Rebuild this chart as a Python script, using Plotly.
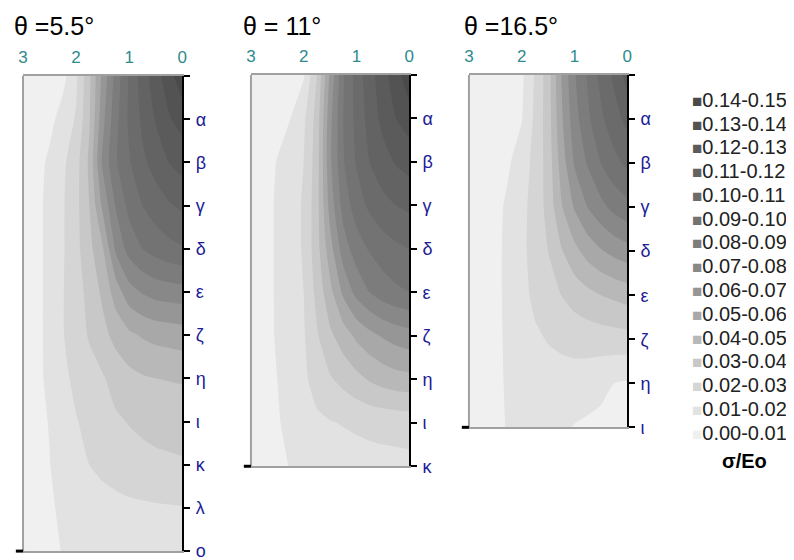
import plotly.graph_objects as go

# ---------------- data ----------------
X_POS = [0.0, 0.25, 0.5, 0.75, 1.0, 1.25, 1.5, 1.75, 2.0, 2.25, 2.5, 2.75, 3.0]
X_TICKS = [0, 1, 2, 3]

TITLES = ["θ =5.5°", "θ = 11°", "θ =16.5°"]

DEPTH_LABELS_55 = ["", "α", "β", "γ", "δ", "ε", "ζ", "η", "ι", "κ", "λ", "ο"]
DEPTH_LABELS_11 = ["", "α", "β", "γ", "δ", "ε", "ζ", "η", "ι", "κ"]
DEPTH_LABELS_165 = ["", "α", "β", "γ", "δ", "ε", "ζ", "η", "ι"]

# sigma/Eo, rows = depth ticks (top to bottom), columns = X_POS
Z_THETA_55 = [
    [0.147, 0.136, 0.126, 0.115, 0.101, 0.084, 0.063, 0.038, 0.018, 0.007, 0.0045, 0.0035, 0.003],
    [0.134, 0.129, 0.121, 0.112, 0.102, 0.087, 0.067, 0.039, 0.021, 0.014, 0.007, 0.0045, 0.0035],
    [0.124, 0.120, 0.114, 0.108, 0.099, 0.089, 0.072, 0.042, 0.026, 0.018, 0.012, 0.006, 0.004],
    [0.112, 0.109, 0.105, 0.100, 0.093, 0.081, 0.062, 0.040, 0.027, 0.019, 0.013, 0.007, 0.0045],
    [0.099, 0.097, 0.094, 0.090, 0.084, 0.072, 0.049, 0.037, 0.027, 0.019, 0.013, 0.007, 0.0045],
    [0.076, 0.075, 0.074, 0.071, 0.066, 0.055, 0.042, 0.033, 0.026, 0.0195, 0.013, 0.007, 0.0045],
    [0.055, 0.054, 0.053, 0.051, 0.048, 0.043, 0.037, 0.031, 0.025, 0.0195, 0.013, 0.007, 0.0045],
    [0.041, 0.0405, 0.040, 0.039, 0.037, 0.034, 0.029, 0.026, 0.022, 0.018, 0.0125, 0.007, 0.0045],
    [0.034, 0.0335, 0.033, 0.032, 0.0305, 0.0285, 0.0255, 0.0225, 0.0195, 0.016, 0.0105, 0.007, 0.0045],
    [0.029, 0.0285, 0.028, 0.027, 0.026, 0.0245, 0.0225, 0.020, 0.0175, 0.0145, 0.0097, 0.007, 0.0045],
    [0.0195, 0.0193, 0.019, 0.0185, 0.018, 0.017, 0.016, 0.015, 0.014, 0.012, 0.0085, 0.006, 0.0045],
    [0.016, 0.016, 0.0158, 0.0155, 0.015, 0.0145, 0.014, 0.013, 0.012, 0.0105, 0.0075, 0.0055, 0.004],
]

Z_THETA_11 = [
    [0.147, 0.136, 0.126, 0.116, 0.104, 0.089, 0.062, 0.030, 0.009, 0.005, 0.004, 0.0035, 0.003],
    [0.135, 0.130, 0.123, 0.114, 0.103, 0.090, 0.067, 0.034, 0.018, 0.010, 0.006, 0.004, 0.0035],
    [0.124, 0.121, 0.116, 0.110, 0.101, 0.089, 0.068, 0.035, 0.020, 0.015, 0.0105, 0.0055, 0.004],
    [0.112, 0.110, 0.107, 0.102, 0.095, 0.084, 0.064, 0.036, 0.021, 0.016, 0.0115, 0.006, 0.004],
    [0.100, 0.098, 0.095, 0.091, 0.085, 0.075, 0.056, 0.036, 0.021, 0.016, 0.0115, 0.006, 0.004],
    [0.090, 0.088, 0.085, 0.080, 0.073, 0.062, 0.047, 0.033, 0.020, 0.0155, 0.0115, 0.006, 0.004],
    [0.066, 0.064, 0.061, 0.057, 0.052, 0.045, 0.038, 0.029, 0.019, 0.015, 0.0112, 0.006, 0.004],
    [0.047, 0.046, 0.044, 0.041, 0.037, 0.033, 0.029, 0.024, 0.018, 0.014, 0.010, 0.006, 0.004],
    [0.024, 0.0235, 0.023, 0.0225, 0.0215, 0.0205, 0.0195, 0.018, 0.016, 0.013, 0.009, 0.0055, 0.004],
    [0.0175, 0.0172, 0.017, 0.0165, 0.016, 0.0155, 0.015, 0.014, 0.013, 0.0105, 0.0075, 0.005, 0.004],
]

Z_THETA_165 = [
    [0.124, 0.112, 0.103, 0.091, 0.079, 0.060, 0.035, 0.021, 0.008, 0.005, 0.004, 0.0035, 0.003],
    [0.113, 0.106, 0.098, 0.088, 0.076, 0.058, 0.035, 0.022, 0.0095, 0.006, 0.0045, 0.0035, 0.003],
    [0.102, 0.097, 0.090, 0.081, 0.071, 0.054, 0.034, 0.023, 0.015, 0.009, 0.0055, 0.004, 0.003],
    [0.087, 0.083, 0.077, 0.070, 0.061, 0.049, 0.033, 0.024, 0.017, 0.012, 0.007, 0.0045, 0.0035],
    [0.066, 0.063, 0.059, 0.054, 0.047, 0.039, 0.030, 0.024, 0.0175, 0.0125, 0.0075, 0.0045, 0.0035],
    [0.044, 0.042, 0.040, 0.037, 0.034, 0.030, 0.026, 0.022, 0.017, 0.0125, 0.0075, 0.0045, 0.0035],
    [0.026, 0.0255, 0.025, 0.0245, 0.0235, 0.022, 0.0205, 0.0185, 0.016, 0.012, 0.0075, 0.0045, 0.0035],
    [0.009, 0.010, 0.012, 0.014, 0.0155, 0.016, 0.016, 0.0155, 0.0145, 0.0115, 0.0075, 0.0045, 0.0035],
    [0.007, 0.0075, 0.008, 0.0085, 0.0095, 0.0115, 0.013, 0.0135, 0.013, 0.011, 0.007, 0.0045, 0.0035],
]

LEVEL_LABELS = ["0.00-0.01", "0.01-0.02", "0.02-0.03", "0.03-0.04", "0.04-0.05",
                "0.05-0.06", "0.06-0.07", "0.07-0.08", "0.08-0.09", "0.09-0.10",
                "0.10-0.11", "0.11-0.12", "0.12-0.13", "0.13-0.14", "0.14-0.15"]
BAND_COLORS = ["#f0f0f0", "#e2e2e2", "#d5d5d5", "#c8c8c8", "#b8b8b8",
               "#a8a8a8", "#969696", "#888888", "#7c7c7c", "#737373",
               "#6b6b6b", "#636363", "#5b5b5b", "#535353", "#4a4a4a"]

# ---------------- figure ----------------
W, H = 794, 560
n_bands = len(BAND_COLORS)
colorscale = [[k / (n_bands - 1), c] for k, c in enumerate(BAND_COLORS)]


# the page wraps the figure in an 8 px body margin and the capture is fitted
# back into the window; these helpers turn target screen pixels into paper units
def fx(sx):
    return ((sx - 2) / 0.992 - 8) / W


def fy(sy):
    return 1 - (sy / 0.984 - 8) / H


panels = [
    dict(title=TITLES[0], z=Z_THETA_55, labels=DEPTH_LABELS_55, px=(20, 180), py=(76, 552), tx=9),
    dict(title=TITLES[1], z=Z_THETA_11, labels=DEPTH_LABELS_11, px=(249, 408), py=(75, 467), tx=239),
    dict(title=TITLES[2], z=Z_THETA_165, labels=DEPTH_LABELS_165, px=(468, 627), py=(75, 428), tx=461),
]

fig = go.Figure()
layout = dict(
    width=W, height=H, margin=dict(l=0, r=0, t=0, b=0),
    paper_bgcolor="white", plot_bgcolor="white",
    font=dict(family="Arial, Liberation Sans, sans-serif", color="black"),
    shapes=[], annotations=[], showlegend=False,
)

for i, p in enumerate(panels, start=1):
    sfx = "" if i == 1 else str(i)
    xa, ya = "x" + sfx, "y" + sfx
    depth = list(range(len(p["labels"])))
    fig.add_trace(go.Contour(
        x=X_POS, y=depth, z=p["z"],
        xaxis=xa, yaxis=ya,
        autocontour=False,
        contours=dict(start=0.01, end=0.14, size=0.01, coloring="fill", showlines=False),
        colorscale=colorscale, showscale=False,
        line=dict(width=0, smoothing=0.5),
        hoverinfo="skip", showlegend=False,
    ))
    xd = [fx(p["px"][0]), fx(p["px"][1])]
    yd = [fy(p["py"][1]), fy(p["py"][0])]
    layout["xaxis" + sfx] = dict(
        domain=xd, range=[3, 0], side="top", anchor=ya,
        tickvals=X_TICKS, ticks="", ticklabelstandoff=4,
        tickfont=dict(color="#2f8a8c", size=17),
        showline=True, linecolor="#a0a0a0", linewidth=2, mirror=True,
        showgrid=False, zeroline=False, fixedrange=True,
    )
    layout["yaxis" + sfx] = dict(
        domain=yd, range=[depth[-1], 0], side="right", anchor=xa,
        tickvals=depth, ticktext=p["labels"],
        ticks="outside", ticklen=6, tickwidth=1.5, tickcolor="black",
        ticklabelstandoff=2,
        tickfont=dict(color="#1c1c96", size=18),
        showline=True, linecolor="black", linewidth=1.5,
        showgrid=False, zeroline=False, fixedrange=True,
    )
    # left gray frame line and small black tick at the bottom left
    layout["shapes"].append(dict(type="line", xref=xa + " domain", yref=ya + " domain",
                                 x0=0, x1=0, y0=0, y1=1,
                                 line=dict(color="#a0a0a0", width=2)))
    layout["shapes"].append(dict(type="line", xref=xa + " domain", yref=ya + " domain",
                                 x0=-0.045, x1=0, y0=0, y1=0,
                                 line=dict(color="black", width=3)))
    layout["annotations"].append(dict(
        xref="paper", yref="paper", x=fx(p["tx"]), y=fy(26),
        xanchor="left", yanchor="middle", text=p["title"], showarrow=False,
        font=dict(size=25, color="black"),
    ))

# legend (darkest band first)
for row, k in enumerate(reversed(range(n_bands))):
    layout["annotations"].append(dict(
        xref="paper", yref="paper", x=fx(690), y=fy(100 + row * 23.8),
        xanchor="left", yanchor="middle", showarrow=False,
        text=f'<span style="color:{BAND_COLORS[k]};font-size:17px">■</span>{LEVEL_LABELS[k]}',
        font=dict(size=20, color="#222222"),
    ))

layout["annotations"].append(dict(
    xref="paper", yref="paper", x=fx(745), y=fy(462),
    xanchor="center", yanchor="middle", text="<b>σ/Eo</b>", showarrow=False,
    font=dict(size=20, color="black"),
))
fig.update_layout(**layout)

fig.write_html("out.html")
